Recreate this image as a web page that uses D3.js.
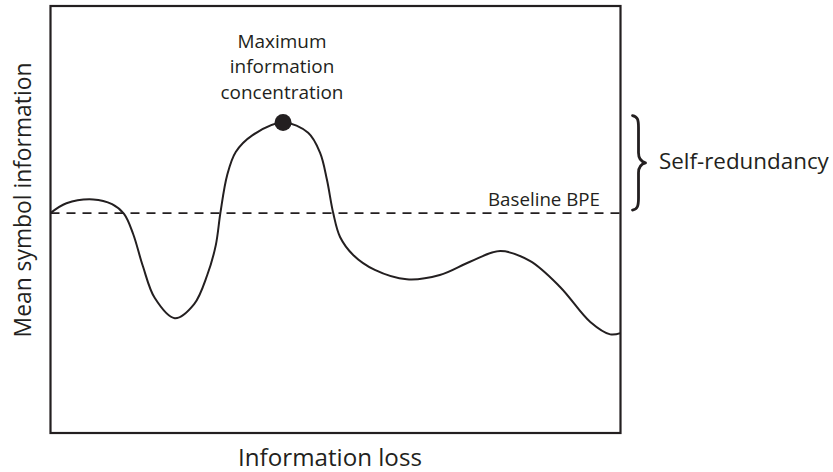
<!DOCTYPE html>
<html>
<head>
<meta charset="utf-8">
<script src="https://cdn.jsdelivr.net/npm/d3@7"></script>
<style>
  html, body { margin: 0; padding: 0; background: #fff; }
  svg { display: block; }
  text { font-family: "Open Sans", "Noto Sans", sans-serif; fill: #231f20; }
</style>
</head>
<body>
<svg id="chart" width="833" height="472"></svg>
<script>
// ---- data (abstract units) ----
const curveX = [0, 2.8, 7.5, 10.8, 12.9, 14.5, 16.2, 18.3, 21.8, 25.2, 27.5, 29.0, 29.8, 31.0, 32.5, 35.4, 40.8, 45.2, 47.3, 48.5, 49.6, 50.8, 53.1, 56.9, 62.5, 68.3, 73.6, 78.9, 84.1, 89.4, 94.7, 98.2, 100];
const curveY = [51.5, 53.8, 54.7, 53.6, 51.3, 46.6, 39.1, 31.6, 26.9, 30.2, 37.0, 44.0, 51.5, 60.4, 65.8, 69.7, 72.7, 70.3, 65.6, 59.3, 51.5, 45.9, 41.7, 38.2, 36.0, 37.0, 40.1, 42.6, 40.3, 34.2, 26.0, 23.1, 23.4];
const baselineValue = 51.5;
const peakX = 40.8, peakY = 72.7;
const xDomain = [0, 100];
const yDomain = [0, 100];
const labels = {
  x: "Information loss",
  y: "Mean symbol information",
  baseline: "Baseline BPE",
  brace: "Self-redundancy",
  peak: ["Maximum", "information", "concentration"]
};

// ---- drawing ----
const svg = d3.select("#chart");
const ink = "#231f20";
const x = d3.scaleLinear().domain(xDomain).range([50.5, 620.5]);
const y = d3.scaleLinear().domain(yDomain).range([433, 6]);

function fit(sel, target) {
  const w = sel.node().getComputedTextLength();
  const fs = parseFloat(sel.attr("font-size"));
  const nfs = fs * target / w;
  sel.attr("font-size", nfs);
  return nfs;
}

// frame
svg.append("rect")
  .attr("x", x(xDomain[0])).attr("y", y(yDomain[1]))
  .attr("width", x(xDomain[1]) - x(xDomain[0]))
  .attr("height", y(yDomain[0]) - y(yDomain[1]))
  .attr("fill", "none").attr("stroke", ink).attr("stroke-width", 2.2);

// baseline dashed
svg.append("line")
  .attr("x1", x(xDomain[0])).attr("x2", x(xDomain[1]))
  .attr("y1", y(baselineValue)).attr("y2", y(baselineValue))
  .attr("stroke", ink).attr("stroke-width", 1.8)
  .attr("stroke-dasharray", "9,7");

// curve
const pts = curveX.map((v, i) => [v, curveY[i]]);
const line = d3.line().x(d => x(d[0])).y(d => y(d[1])).curve(d3.curveCatmullRom.alpha(0.5));
svg.append("path").datum(pts)
  .attr("d", line)
  .attr("fill", "none").attr("stroke", ink).attr("stroke-width", 2)
  .attr("stroke-linejoin", "round");

// peak dot
svg.append("circle")
  .attr("cx", x(peakX)).attr("cy", y(peakY)).attr("r", 8.5)
  .attr("fill", ink);

// peak label
const peakG = svg.append("g");
const peakLines = labels.peak.map((t, i) =>
  peakG.append("text").attr("x", 282).attr("y", 47.7 + i * 25.7)
    .attr("text-anchor", "middle").attr("font-size", 16).text(t));
const pfs = fit(peakLines[2], 123);
peakLines.forEach(s => s.attr("font-size", pfs));

// baseline label
const bl = svg.append("text").attr("x", 488).attr("y", 205.7)
  .attr("font-size", 16).text(labels.baseline);
fit(bl, 112);

// brace
const bTop = y(peakY) - 7, bBot = y(baselineValue) - 3;
const bMid = (bTop + bBot) / 2;
const bx = x(xDomain[1]) + 13, bw = 6;
const bp = d3.path();
bp.moveTo(bx - 1, bTop);
bp.bezierCurveTo(bx + 4, bTop + 1, bx + bw - 1, bTop + 4, bx + bw - 1, bTop + 12);
bp.lineTo(bx + bw - 1, bMid - 10);
bp.bezierCurveTo(bx + bw - 1, bMid - 4, bx + bw + 2, bMid - 1, bx + bw + 6, bMid);
bp.bezierCurveTo(bx + bw + 2, bMid + 1, bx + bw - 1, bMid + 4, bx + bw - 1, bMid + 10);
bp.lineTo(bx + bw - 1, bBot - 12);
bp.bezierCurveTo(bx + bw - 1, bBot - 4, bx + 4, bBot - 1, bx - 1, bBot);
svg.append("path").attr("d", bp.toString())
  .attr("fill", "none").attr("stroke", ink).attr("stroke-width", 2.8)
  .attr("stroke-linecap", "round").attr("stroke-linejoin", "round");

const br = svg.append("text").attr("x", 659).attr("y", 169.3)
  .attr("font-size", 18).text(labels.brace);
fit(br, 170);

// axis labels
const xl = svg.append("text").attr("x", 330).attr("y", 466)
  .attr("text-anchor", "middle").attr("font-size", 20).text(labels.x);
fit(xl, 184);

const yl = svg.append("text")
  .attr("transform", "translate(31,200) rotate(-90)")
  .attr("text-anchor", "middle").attr("font-size", 20).text(labels.y);
fit(yl, 275);
</script>
</body>
</html>
